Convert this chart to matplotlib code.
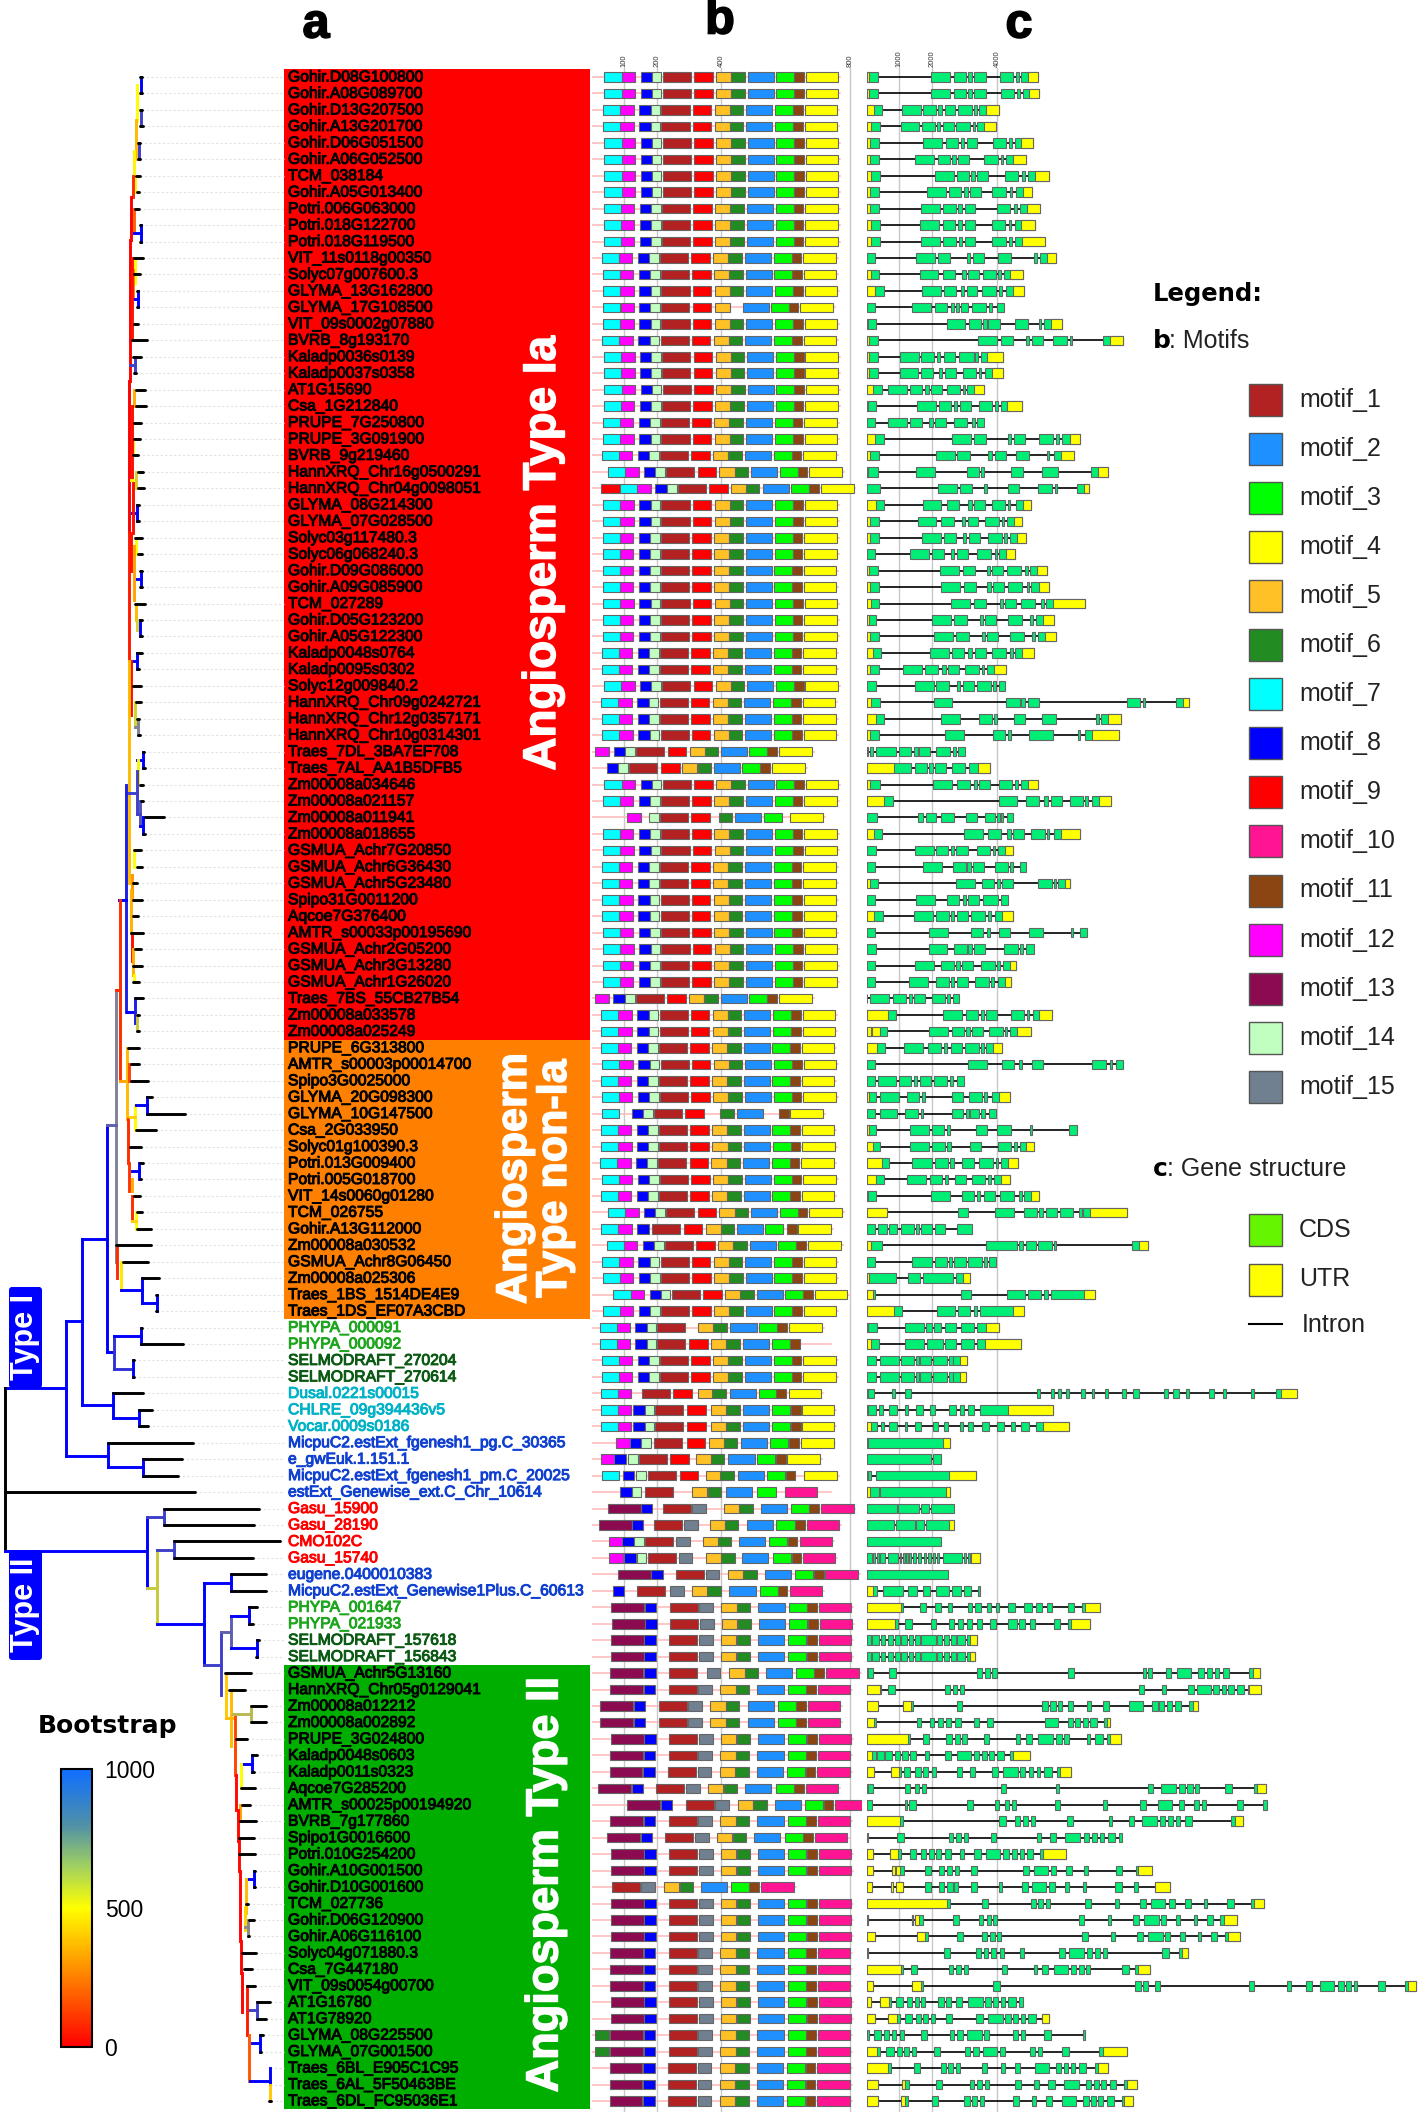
import matplotlib
matplotlib.use('Agg')
import matplotlib.pyplot as plt
import matplotlib.patheffects as pe
from matplotlib.cm import ScalarMappable
from matplotlib.colors import LinearSegmentedColormap, Normalize
from matplotlib.patches import FancyBboxPatch, Rectangle

plt.rcParams['font.family'] = ['Liberation Sans', 'DejaVu Sans']

W, H = 1418, 2112

genes = ['Gohir.D08G100800', 'Gohir.A08G089700', 'Gohir.D13G207500', 'Gohir.A13G201700', 'Gohir.D06G051500',
         'Gohir.A06G052500', 'TCM_038184', 'Gohir.A05G013400', 'Potri.006G063000', 'Potri.018G122700',
         'Potri.018G119500', 'VIT_11s0118g00350', 'Solyc07g007600.3', 'GLYMA_13G162800', 'GLYMA_17G108500',
         'VIT_09s0002g07880', 'BVRB_8g193170', 'Kaladp0036s0139', 'Kaladp0037s0358', 'AT1G15690',
         'Csa_1G212840', 'PRUPE_7G250800', 'PRUPE_3G091900', 'BVRB_9g219460', 'HannXRQ_Chr16g0500291',
         'HannXRQ_Chr04g0098051', 'GLYMA_08G214300', 'GLYMA_07G028500', 'Solyc03g117480.3', 'Solyc06g068240.3',
         'Gohir.D09G086000', 'Gohir.A09G085900', 'TCM_027289', 'Gohir.D05G123200', 'Gohir.A05G122300',
         'Kaladp0048s0764', 'Kaladp0095s0302', 'Solyc12g009840.2', 'HannXRQ_Chr09g0242721', 'HannXRQ_Chr12g0357171',
         'HannXRQ_Chr10g0314301', 'Traes_7DL_3BA7EF708', 'Traes_7AL_AA1B5DFB5', 'Zm00008a034646', 'Zm00008a021157',
         'Zm00008a011941', 'Zm00008a018655', 'GSMUA_Achr7G20850', 'GSMUA_Achr6G36430', 'GSMUA_Achr5G23480',
         'Spipo31G0011200', 'Aqcoe7G376400', 'AMTR_s00033p00195690', 'GSMUA_Achr2G05200', 'GSMUA_Achr3G13280',
         'GSMUA_Achr1G26020', 'Traes_7BS_55CB27B54', 'Zm00008a033578', 'Zm00008a025249', 'PRUPE_6G313800',
         'AMTR_s00003p00014700', 'Spipo3G0025000', 'GLYMA_20G098300', 'GLYMA_10G147500', 'Csa_2G033950',
         'Solyc01g100390.3', 'Potri.013G009400', 'Potri.005G018700', 'VIT_14s0060g01280', 'TCM_026755',
         'Gohir.A13G112000', 'Zm00008a030532', 'GSMUA_Achr8G06450', 'Zm00008a025306', 'Traes_1BS_1514DE4E9',
         'Traes_1DS_EF07A3CBD', 'PHYPA_000091', 'PHYPA_000092', 'SELMODRAFT_270204', 'SELMODRAFT_270614',
         'Dusal.0221s00015', 'CHLRE_09g394436v5', 'Vocar.0009s0186', 'MicpuC2.estExt_fgenesh1_pg.C_30365',
         'e_gwEuk.1.151.1', 'MicpuC2.estExt_fgenesh1_pm.C_20025', 'estExt_Genewise_ext.C_Chr_10614', 'Gasu_15900',
         'Gasu_28190', 'CMO102C', 'Gasu_15740', 'eugene.0400010383', 'MicpuC2.estExt_Genewise1Plus.C_60613',
         'PHYPA_001647', 'PHYPA_021933', 'SELMODRAFT_157618', 'SELMODRAFT_156843', 'GSMUA_Achr5G13160',
         'HannXRQ_Chr05g0129041', 'Zm00008a012212', 'Zm00008a002892', 'PRUPE_3G024800', 'Kaladp0048s0603',
         'Kaladp0011s0323', 'Aqcoe7G285200', 'AMTR_s00025p00194920', 'BVRB_7g177860', 'Spipo1G0016600',
         'Potri.010G254200', 'Gohir.A10G001500', 'Gohir.D10G001600', 'TCM_027736', 'Gohir.D06G120900',
         'Gohir.A06G116100', 'Solyc04g071880.3', 'Csa_7G447180', 'VIT_09s0054g00700', 'AT1G16780', 'AT1G78920',
         'GLYMA_08G225500', 'GLYMA_07G001500', 'Traes_6BL_E905C1C95', 'Traes_6AL_5F50463BE', 'Traes_6DL_FC95036E1']

# label colours for the rows outside the coloured blocks
label_colors = {'PHYPA': '#1ea51e', 'SELMO': '#0b5a14', 'Dusal': '#00b2c6', 'CHLRE': '#00b2c6', 'Vocar': '#00b2c6',
                'Micpu': '#1040d0', 'e_gwE': '#1040d0', 'estEx': '#1040d0', 'eugen': '#1040d0',
                'Gasu_': '#ff0000', 'CMO10': '#ff0000'}

# tree: black tip branches, one per row
tip_start = [139.5, 139.5, 139.5, 140, 137.5, 138, 135.5, 136.5, 135, 140, 139.5, 133.5, 133.5, 136.5, 136.5, 134,
             131.5, 133, 134, 135.5, 135.5, 134, 134, 132.5, 138, 138, 137, 137, 135, 138, 140, 140, 135, 140, 140,
             137, 137, 133, 136, 137, 138, 143, 143, 140, 141, 145, 143, 134, 136.7, 132.7, 132.7, 132.7, 130.7,
             134.7, 133, 133, 135, 137, 137, 128.3, 130.7, 130.7, 147.3, 147.3, 136, 130, 140, 139.5, 134, 137,
             136.7, 116, 122.7, 142.3, 156, 156, 141, 141, 133, 133, 112.7, 139.2, 139.2, 107.5, 143, 143, 4.7,
             164, 164, 174, 174, 231, 231, 249, 249, 257, 255.5, 224.6, 229.3, 251, 251, 236, 252, 252, 241, 242,
             239.6, 239, 239, 254, 254, 246, 248.5, 248.3, 242, 244, 247, 257, 257, 260, 260, 269.7, 269.7, 269]
tip_end = [142, 142, 141.5, 143, 140, 139.5, 140, 139, 139, 141, 141, 142.5, 140, 138, 138, 138, 146.5, 141, 136,
           144.5, 146, 141, 140, 138, 143, 144, 139, 139, 142, 142, 141.5, 141.5, 145, 142, 142, 141.7, 139, 141,
           141, 139, 139.5, 144, 145, 143, 143, 164, 145, 141, 142, 137, 141.7, 137.7, 143.3, 140.7, 142, 139, 143,
           139, 139, 139.3, 139.3, 148.3, 151.7, 185, 156, 141.3, 142.5, 141, 140.3, 141.5, 150.7, 151.3, 148, 159,
           157, 157, 142, 182.7, 134, 134, 143, 152, 148, 193, 182, 178, 194.5, 259, 253.5, 280, 253, 266, 266,
           257, 253, 259, 257, 251, 245, 266, 266, 247, 257, 254, 255, 250, 256, 254, 254.5, 255, 255, 248, 254,
           249, 256, 251.5, 255, 269.7, 265.7, 263, 261, 270.3, 270.3, 270.5]

# tree: internal branches as (x0, x1, row0, row1, bootstrap); None is a branch with no support value
branches = [(141, 141, 0, 1, 1000), (137, 137, .5, 2.7, 500), (141, 141, 2, 3, 900), (136, 136, 2.6, 5, 350),
            (139, 139, 4, 5, 900), (134, 134, 4.5, 6.1, 480), (135, 135, 6.1, 7, 520), (132.5, 132.5, 6, 7.3, 100),
            (131, 131, 7.3, 9.9, 0), (134, 134, 8, 9.5, 200), (134, 140.5, 9.5, 9.5, 1000), (140.5, 140.5, 9, 10, 1000),
            (129.5, 129.5, 9.9, 18.5, 0), (135, 135, 11, 12.5, 500), (133, 133, 11.7, 13.5, 250),
            (134, 137.5, 13.5, 13.5, 1000), (137.5, 137.5, 13, 14, 1000), (132, 132, 11, 16, 50),
            (130, 135, 17.5, 17.5, 900), (135, 135, 17, 18, 900), (134, 134, 19, 20, 320), (128.5, 128.5, 18.5, 27.7, 0),
            (133, 133, 22, 23, 480), (132, 132, 20, 24.5, 30), (131, 136, 24.5, 24.5, 500), (136.3, 136.3, 24, 25, 620),
            (132, 137, 26.5, 26.5, 1000), (137.3, 137.3, 26, 27, 1000), (132.7, 132.7, 24.7, 27.7, 30),
            (129, 129, 27.7, 35.4, 60), (136, 136, 28, 29, 500), (134, 134, 28.5, 31.8, 300),
            (137.3, 141, 30.5, 30.5, 1000), (141, 141, 30, 31, 1000), (131, 131, 27.7, 30, 40),
            (136, 136, 32, 33, 350), (136.7, 136.7, 33, 33.6, 620), (139.7, 139.7, 33, 34, 1000),
            (132, 137, 35.5, 35.5, 1000), (137, 137, 35, 36, 1000), (131, 131, 35.5, 38.8, 30),
            (128.7, 128.7, 35.5, 49, 350), (135, 135, 38, 39.5, 620), (137.7, 137.7, 39, 40, 800),
            (135, 137.7, 39.5, 39.5, 800), (143.3, 143.3, 41, 42, 1000), (136.7, 143.3, 41.5, 41.5, 1000),
            (138, 138, 41.5, 43, 520), (136.7, 136.7, 42.2, 44.8, 900), (126.7, 136.7, 43.5, 43.5, 900),
            (140, 140, 44, 45.5, 870), (136.7, 140, 44.8, 44.8, 900), (143.3, 143.3, 45, 46, 1000),
            (140, 143.3, 45.5, 45.5, 1000), (126, 126, 43, 56.8, 950), (126.7, 135, 56.8, 56.8, 1000),
            (135, 135, 56, 57.5, 950), (136.7, 136.7, 57, 58, 650), (134, 134, 47, 48, 500), (132, 132, 48.5, 50, 280),
            (130.7, 130.7, 49.4, 52, 330), (131.7, 131.7, 52, 53.7, 30), (132.7, 132.7, 53, 54.6, 320),
            (134, 134, 54.6, 55, 500), (119, 126, 50, 50, 1000), (120.3, 120.3, 50, 61, 100),
            (115.7, 115.7, 55.5, 72, 800), (115.7, 120.3, 55.5, 55.5, 100), (120.3, 128.3, 61, 61, 300),
            (126.7, 126.7, 59, 63.3, 350), (129.3, 129.3, 60, 61, 150), (128, 128, 63.3, 66, 100),
            (134.7, 134.7, 62.5, 64, 500), (130, 134.7, 63.2, 63.2, 400), (136, 146.7, 62.5, 62.5, 1000),
            (146.7, 146.7, 62, 63, 1000), (129.3, 129.3, 66, 67.7, 120), (132, 132, 67, 67.7, 320),
            (131.7, 139.3, 66.5, 66.5, 1000), (139.3, 139.3, 66, 67, 1000), (132.3, 132.3, 68, 69.5, 100),
            (136, 136, 69, 70, 500), (132.3, 136, 69.5, 69.5, 400), (117, 117, 71, 73, 100), (121.3, 121.3, 72, 73.7, 450),
            (121.3, 141.7, 73.7, 73.7, 1000), (141.7, 141.7, 73, 74.5, 1000), (141.7, 156.7, 74.5, 74.5, 1000),
            (156.7, 156.7, 74, 75, 1000), (107.3, 107.3, 63.7, 77.5, 1000), (107.3, 115.7, 63.7, 63.7, 850),
            (81.7, 107.3, 70.6, 70.6, 1000), (82.2, 82.2, 70.6, 80.7, 1000), (82.2, 112.7, 80.7, 80.7, 1000),
            (107.3, 114, 77.5, 77.5, 1000), (114, 114, 76.5, 78.5, 920), (114, 141, 76.5, 76.5, 1000),
            (141, 141, 76, 77, 1000), (114, 133, 78.5, 78.5, 920), (133, 133, 78, 79, 1000),
            (112.7, 112.7, 80, 81.5, 1000), (112.7, 139.2, 81.5, 81.5, 1000), (139.2, 139.2, 81, 82, 1000),
            (66.4, 66.4, 75.6, 83.8, 1000), (66.4, 82.2, 75.6, 75.6, 1000), (66.4, 107.5, 83.8, 83.8, 1000),
            (107.5, 107.5, 83, 84.5, 1000), (107.5, 143, 84.5, 84.5, 1000), (143, 143, 84, 85, 1000),
            (4.7, 66.4, 79.7, 79.7, 1000), (4.7, 4.7, 79.7, 89.6, None), (4.7, 146, 89.6, 89.6, 1000),
            (147, 147, 87.5, 91.8, 1000), (147, 164, 87.5, 87.5, 900), (164, 164, 87, 88, 900),
            (156.6, 156.6, 89.5, 94, 650), (147, 156.6, 91.8, 91.8, 650), (156.6, 174, 89.5, 89.5, 900),
            (174, 174, 89, 90, 900), (156.6, 203.6, 94, 94, 1000), (203.6, 203.6, 91.5, 96.5, 1000),
            (203.6, 231.3, 91.5, 91.5, 1000), (231.3, 231.3, 91, 92, 1000), (203.6, 221.4, 96.5, 96.5, 900),
            (221.4, 221.4, 94.5, 98.3, 900), (221.4, 231.3, 94.5, 94.5, 850), (231.3, 231.3, 93.5, 95.5, 850),
            (231.3, 249, 93.5, 93.5, 1000), (249, 249, 93, 94, 1000), (231.3, 257, 95.5, 95.5, 1000),
            (257, 257, 95, 96, 1000), (225.8, 225.8, 97, 99.7, 380), (225.8, 233.3, 99.7, 99.7, 350),
            (230.5, 230.5, 98, 101.4, 350), (234.5, 234.5, 99.6, 103.2, 150), (233.3, 251, 99.5, 99.5, 680),
            (251, 251, 99, 100, 680), (241, 252, 102.5, 102.5, 1000), (252, 252, 102, 103, 1000),
            (241, 241, 102.5, 104, 500), (236, 236, 103.2, 105.3, 20), (240.4, 240.4, 105, 106, 300),
            (237.7, 237.7, 105.3, 107.2, 20), (239, 239, 107, 109, 20), (248, 254, 109.5, 109.5, 1000),
            (254, 254, 109, 110, 1000), (246.3, 246.3, 109.5, 111.6, 350), (245, 245, 111.2, 112.6, 400),
            (248.3, 248.3, 112, 113, 780), (245, 248.3, 112.4, 112.4, 780), (239.6, 239.6, 109, 113.3, 10),
            (240.8, 240.8, 113.3, 115.2, 10), (242.4, 242.4, 115.2, 117.6, 10), (248, 257, 117.5, 117.5, 900),
            (257, 257, 117, 118, 900), (247, 247, 116, 119, 60), (249, 249, 119, 121.8, 180),
            (252, 260, 119.5, 119.5, 1000), (260, 260, 119, 120, 1000), (250.3, 269.7, 121.8, 121.8, 1000),
            (269.7, 269.7, 121, 122, 1000), (269.7, 269.7, 122, 123, 380)]

# motifs: width in aa, and the usual order along the protein
motif_len = {1: 87, 2: 81, 3: 56, 4: 101, 5: 47, 6: 42, 7: 53, 8: 36, 9: 58, 10: 100, 11: 30, 12: 42, 13: 102, 14: 30, 15: 43}
motif_colors = {1: '#b22222', 2: '#1e90ff', 3: '#00ff00', 4: '#ffff00', 5: '#ffc125', 6: '#228b22', 7: '#00ffff', 8: '#0000ff',
                9: '#ff0000', 10: '#ff1493', 11: '#8b4513', 12: '#ff00ff', 13: '#8b0a50', 14: '#c1ffc1', 15: '#708090'}
type1_order = [7, 12, 8, 14, 1, 9, 5, 6, 2, 3, 11, 4]
type1_offset = [0, 53, 112, 147, 181, 278, 346, 393, 444, 533, 589, 625]
type2_order = [13, 8, 1, 15, 5, 6, 2, 3, 11, 10]
type2_offset = [0, 104, 181, 273, 342, 390, 457, 551, 609, 645]

# aa position of the first motif in each row; None means the row is listed in motif_special
motif_first = [38, 38, 34, 34, 38, 38, 38, 38, 36, 36, 36, 30, 32, 34, None, 34, 31, 37, 37, 38, 36, 33, 34, 30, 49, None,
               34, 34, 33, 33, 32, 32, 34, 33, 33, 30, 30, 37, 28, 30, 31, None, None, 38, 33, None, 33, 34, 30, 30, 31, 31,
               32, 34, 33, 33, None, 28, 28, 26, 31, 26, 30, None, 26, 27, 24, 30, 26, 49, None, 45, 31, 32, 66, 32,
               None, None, 30, 30, None, None, None, None, None, None, None, None, None, None, None, 79, None,
               59, 61, 58, 58, None, 56, 25, 25, 58, 56, 54, 18, 109, 56, 46, 58, 58, None, 58, 58, 58, 56, 56, 56, 58, 58, 56, 56, 54, 54, 54]

# rows that do not follow the usual order: row number -> (motif, start aa)
motif_special = {
    15: [(7, 34), (12, 88), (8, 145), (14, 180), (1, 214), (9, 312), (5, 380), (2, 467), (3, 555), (11, 610), (4, 646)],
    26: [(9, 28), (7, 85), (12, 139), (8, 196), (14, 232), (1, 266), (9, 362), (5, 430), (6, 477), (2, 530), (3, 618), (11, 673), (4, 710)],
    42: [(12, 10), (8, 68), (14, 103), (1, 137), (9, 234), (5, 302), (6, 349), (2, 400), (3, 488), (11, 544), (4, 581)],
    43: [(8, 45), (14, 81), (1, 114), (9, 213), (5, 279), (6, 327), (2, 379), (3, 466), (11, 521), (4, 559)],
    46: [(12, 108), (14, 177), (1, 210), (9, 308), (6, 393), (2, 444), (3, 532), (4, 615)],
    57: [(12, 10), (8, 66), (14, 102), (1, 135), (9, 233), (5, 300), (6, 348), (2, 399), (3, 487), (11, 543), (4, 581)],
    64: [(7, 30), (8, 122), (14, 159), (1, 192), (9, 289), (6, 397), (2, 448), (11, 580), (4, 615)],
    71: [(7, 27), (12, 81), (8, 139), (1, 186), (9, 284), (5, 352), (6, 399), (2, 450), (3, 537), (11, 606), (4, 640)],
    77: [(7, 23), (12, 76), (8, 133), (14, 169), (1, 202), (5, 329), (6, 375), (2, 429), (3, 518), (11, 574), (4, 612)],
    78: [(7, 23), (12, 76), (8, 133), (14, 169), (1, 202), (9, 301), (5, 368), (6, 416), (2, 469), (3, 558), (11, 614)],
    81: [(7, 26), (12, 79), (1, 155), (9, 252), (5, 327), (6, 373), (2, 428), (3, 517), (11, 572), (4, 610)],
    82: [(7, 26), (12, 79), (8, 127), (14, 163), (1, 196), (9, 294), (5, 368), (6, 416), (2, 469), (3, 559), (11, 617), (4, 651)],
    83: [(7, 26), (12, 79), (8, 127), (14, 163), (1, 196), (9, 294), (5, 368), (6, 416), (2, 469), (3, 559), (11, 617), (4, 651)],
    84: [(12, 74), (8, 117), (14, 153), (1, 192), (9, 293), (5, 362), (6, 408), (2, 461), (3, 551), (11, 612), (4, 648)],
    85: [(12, 28), (8, 69), (14, 112), (1, 146), (9, 243), (5, 322), (6, 368), (2, 423), (3, 512), (11, 572), (4, 605)],
    86: [(7, 30), (8, 95), (14, 137), (1, 173), (9, 271), (5, 352), (6, 398), (2, 451), (3, 541), (11, 600), (4, 658)],
    87: [(8, 87), (14, 123), (1, 165), (5, 309), (6, 359), (2, 416), (3, 513), (10, 597)],
    88: [(13, 48), (8, 151), (1, 219), (15, 309), (5, 410), (6, 457), (2, 525), (3, 617), (11, 674), (10, 711)],
    89: [(13, 21), (8, 123), (1, 192), (15, 285), (5, 365), (6, 411), (2, 480), (3, 572), (11, 630), (10, 666)],
    90: [(12, 53), (8, 94), (14, 130), (1, 165), (15, 260), (5, 344), (6, 390), (2, 456), (3, 549), (11, 607), (10, 645)],
    91: [(12, 53), (8, 99), (14, 138), (1, 173), (15, 268), (5, 354), (6, 401), (2, 466), (3, 561), (11, 619), (10, 655)],
    93: [(8, 64), (1, 140), (15, 242), (5, 311), (6, 357), (2, 426), (3, 520), (11, 576), (10, 614)],
    98: [(13, 56), (8, 161), (1, 237), (15, 355), (5, 426), (6, 474), (2, 540), (3, 632), (11, 689), (10, 727)],
    111: [(1, 61), (15, 153), (5, 223), (6, 271), (2, 338), (3, 431), (11, 488), (10, 525)],
}
motif_extra = {120: [(6, 10)], 121: [(6, 10)]}
protein_end = {78: 742, 87: 742}

# gene structure in bp: flat start,end pairs of the exons of each row
gene_exons = [
    [0, 360, 1980, 2560, 2670, 3040, 3110, 3220, 3300, 3640, 4070, 4490, 4570, 4660, 4740, 5250],
    [0, 360, 1980, 2560, 2670, 3040, 3110, 3220, 3300, 3640, 4110, 4520, 4600, 4680, 4790, 5270],
    [0, 480, 1090, 1660, 1740, 2130, 2200, 2300, 2390, 2710, 2810, 3220, 3300, 3380, 3450, 4050],
    [0, 410, 1040, 1610, 1710, 2080, 2150, 2260, 2340, 2670, 2750, 3170, 3250, 3320, 3390, 3970],
    [0, 370, 1740, 2320, 2420, 2810, 2880, 2980, 3070, 3390, 3860, 4280, 4360, 4450, 4530, 5080],
    [0, 370, 1490, 2060, 2180, 2550, 2620, 2730, 2810, 3120, 3600, 4010, 4100, 4180, 4260, 4890],
    [0, 410, 2080, 2670, 2760, 3140, 3210, 3310, 3390, 3720, 4240, 4640, 4770, 4860, 4950, 5590],
    [0, 390, 1840, 2420, 2530, 2900, 2980, 3090, 3170, 3500, 3850, 4260, 4380, 4460, 4560, 5050],
    [0, 390, 1670, 2250, 2350, 2730, 2810, 2910, 3000, 3320, 3980, 4400, 4500, 4590, 4690, 5320],
    [0, 400, 1650, 2230, 2330, 2700, 2810, 2910, 3000, 3320, 3840, 4250, 4350, 4430, 4530, 5140],
    [0, 410, 1670, 2250, 2340, 2730, 2820, 2930, 3010, 3330, 3850, 4260, 4360, 4450, 4550, 5460],
    [0, 260, 1510, 2090, 2180, 2550, 3080, 3180, 3250, 3580, 4020, 4430, 5120, 5210, 5310, 5780],
    [0, 370, 1630, 2200, 2330, 2700, 2930, 3030, 3110, 3440, 3550, 3950, 4020, 4110, 4190, 4800],
    [0, 530, 1700, 2280, 2380, 2750, 2880, 2980, 3070, 3390, 3530, 3950, 4060, 4140, 4280, 4830],
    [0, 270, 1390, 1980, 2080, 2460, 2570, 2680, 2750, 2840, 2880, 3100, 3230, 3650, 3760, 3840, 3980, 4190],
    [0, 290, 2450, 3020, 3120, 3500, 3570, 3670, 3730, 4070, 4530, 4950, 5280, 5340, 5430, 5990],
    [0, 350, 3420, 4000, 4100, 4480, 4890, 4980, 5050, 5390, 5690, 6120, 6220, 6290, 7230, 7830],
    [0, 340, 1020, 1600, 1680, 2060, 2150, 2260, 2360, 2700, 2840, 3280, 3330, 3420, 3490, 4170],
    [0, 350, 1010, 1590, 1660, 2040, 2210, 2320, 2410, 2740, 2940, 3360, 3430, 3510, 3620, 4170],
    [0, 460, 670, 1240, 1320, 1710, 1800, 1900, 1980, 2300, 2450, 2850, 2950, 3020, 3070, 3600],
    [0, 290, 1530, 2120, 2210, 2590, 2670, 2770, 2850, 3190, 3430, 3850, 3930, 4010, 4100, 4760],
    [0, 270, 670, 1240, 1320, 1710, 1920, 2020, 2110, 2430, 2670, 3080, 3230, 3310, 3380, 3600],
    [0, 530, 2620, 3210, 3280, 3660, 4330, 4430, 4500, 4840, 5270, 5690, 5810, 5900, 5990, 6530],
    [0, 370, 2120, 2700, 2780, 3160, 3720, 3840, 3920, 4260, 4560, 4980, 5510, 5580, 5730, 6340],
    [0, 350, 1500, 2080, 3070, 3440, 3510, 3600, 4430, 4790, 5380, 5870, 6860, 7380],
    [0, 420, 2200, 2780, 2850, 3230, 3590, 3670, 4320, 4660, 5240, 5660, 5760, 5830, 6440, 6810],
    [0, 550, 1720, 2290, 2460, 2840, 3110, 3220, 3290, 3630, 3830, 4240, 4320, 4400, 4560, 5020],
    [0, 370, 1560, 2130, 2290, 2670, 2910, 3020, 3090, 3420, 3630, 4040, 4130, 4210, 4290, 4770],
    [0, 370, 1700, 2270, 2360, 2730, 2950, 3050, 3140, 3470, 3720, 4140, 4220, 4310, 4390, 4870],
    [0, 270, 1320, 1910, 1990, 2360, 2590, 2680, 2770, 3100, 3390, 3800, 3920, 4000, 4060, 4550],
    [0, 340, 2260, 2830, 2940, 3310, 3670, 3770, 3850, 4180, 4310, 4720, 4840, 4930, 5000, 5530],
    [0, 370, 2280, 2870, 2970, 3350, 3700, 3800, 3860, 4200, 4330, 4750, 4900, 4980, 5040, 5580],
    [0, 390, 2570, 3160, 3280, 3660, 4070, 4180, 4250, 4570, 4730, 5150, 5340, 5420, 5500, 6690],
    [0, 300, 2000, 2570, 2690, 3080, 3460, 3560, 3630, 3970, 4330, 4750, 5000, 5080, 5190, 5730],
    [0, 370, 2060, 2640, 2750, 3140, 3520, 3620, 3690, 4020, 4400, 4810, 5050, 5140, 5250, 5800],
    [0, 430, 1930, 2520, 2600, 2980, 3110, 3220, 3310, 3650, 3850, 4260, 4390, 4470, 4550, 5110],
    [0, 370, 1120, 1710, 1790, 2180, 2320, 2420, 2500, 2830, 3020, 3440, 3520, 3600, 3690, 4280],
    [0, 280, 1490, 2070, 2140, 2530, 2760, 2850, 2950, 3280, 3380, 3800, 3870, 3950, 4040, 4250],
    [0, 400, 2050, 2620, 4280, 4680, 4740, 4840, 4930, 5270, 7960, 8370, 8460, 8520, 9470, 9860],
    [0, 530, 2270, 2850, 3440, 3830, 3910, 4000, 4500, 4840, 5370, 5790, 7020, 7100, 7160, 7770],
    [0, 370, 2390, 2970, 3860, 4240, 4320, 4410, 4960, 5700, 6460, 6520, 6680, 7720],
    [0, 40, 120, 200, 300, 890, 980, 1360, 1440, 1560, 1610, 1950, 2140, 2550, 2640, 2730, 2810, 3010],
    [0, 1370, 1470, 1850, 1920, 2020, 2110, 2430, 2600, 3020, 3120, 3790],
    [0, 400, 2020, 2600, 2770, 3150, 3280, 3380, 3450, 3780, 4040, 4460, 4540, 4620, 4720, 5240],
    [0, 810, 4040, 4610, 4890, 5270, 5440, 5550, 5640, 5970, 6210, 6620, 6690, 6770, 6890, 7490],
    [0, 330, 1560, 1740, 1830, 2120, 2290, 2680, 3050, 3380, 3620, 3940, 4000, 4070, 4100, 4170, 4290, 4490],
    [0, 480, 2980, 3560, 3730, 4120, 4310, 4410, 4480, 4820, 5030, 5450, 5510, 5590, 5730, 6520],
    [0, 280, 1470, 2050, 2120, 2500, 2570, 2680, 2750, 3090, 3380, 3790, 3860, 3940, 4020, 4490],
    [0, 270, 1730, 2300, 2640, 3030, 3080, 3190, 3260, 3600, 3920, 4330, 4400, 4470, 4680, 4890],
    [0, 350, 2730, 3310, 3520, 3900, 3980, 4080, 4150, 4480, 5240, 5660, 5720, 5800, 5850, 6210],
    [0, 270, 1510, 2080, 2460, 2840, 2940, 3040, 3110, 3450, 3570, 4020, 4120, 4320],
    [0, 490, 1450, 2020, 2130, 2520, 2590, 2690, 2760, 3100, 3190, 3620, 3720, 3800, 3930, 4490],
    [0, 270, 1910, 2490, 3190, 3560, 3700, 3790, 4050, 4390, 4980, 5390, 6250, 6310, 6530, 6740],
    [0, 280, 1900, 2470, 2680, 3070, 3110, 3220, 3300, 3630, 4220, 4630, 4700, 4790, 4880, 5110],
    [0, 270, 1470, 2050, 2280, 2670, 2750, 2850, 2930, 3260, 3510, 3920, 4000, 4080, 4170, 4570],
    [0, 270, 1310, 1880, 2120, 2520, 2590, 2690, 2760, 3100, 3330, 3740, 3810, 3900, 4010, 4410],
    [0, 30, 120, 700, 820, 1210, 1290, 1380, 1450, 1790, 1990, 2400, 2470, 2550, 2630, 2830],
    [0, 900, 2350, 2930, 3040, 3400, 3490, 3580, 3660, 3990, 4410, 4830, 4900, 4980, 5080, 5670],
    [0, 140, 180, 640, 1920, 2490, 2600, 2970, 3050, 3150, 3230, 3560, 3740, 4170, 4240, 4310, 4390, 5030],
    [0, 560, 1150, 1730, 1880, 2270, 2380, 2470, 2590, 2910, 3020, 3440, 3500, 3580, 3660, 4130],
    [0, 270, 3110, 3700, 4130, 4520, 4670, 4760, 5070, 5410, 6910, 7320, 7440, 7510, 7630, 7840],
    [0, 250, 340, 910, 980, 1370, 1440, 1540, 1630, 1970, 2050, 2460, 2560, 2640, 2760, 2970],
    [0, 300, 410, 990, 1230, 1600, 1710, 1800, 2610, 2950, 3120, 3530, 3600, 3690, 3850, 4400],
    [0, 260, 410, 920, 1190, 1570, 1670, 1740, 2620, 2960, 3040, 3140, 3180, 3430, 3510, 3630, 3740, 3950],
    [0, 300, 1320, 1910, 1990, 2380, 2450, 2550, 3360, 3690, 4000, 4410, 5000, 5070, 6190, 6450],
    [0, 420, 1320, 1910, 2010, 2400, 2470, 2570, 3170, 3500, 4010, 4420, 4500, 4590, 4680, 5110],
    [0, 690, 1400, 1990, 2110, 2490, 2560, 2670, 2930, 3280, 3440, 3860, 3950, 4020, 4110, 4630],
    [0, 530, 1240, 1830, 1940, 2320, 2400, 2500, 2700, 3040, 3220, 3630, 3720, 3800, 3900, 4390],
    [0, 280, 1980, 2550, 2910, 3300, 3380, 3470, 3600, 3930, 4080, 4500, 4670, 4750, 4820, 5290],
    [0, 620, 2800, 3090, 3920, 4500, 4830, 5220, 5290, 5390, 5500, 5830, 5910, 6330, 6490, 6580, 6630, 7970],
    [0, 250, 350, 630, 700, 940, 1050, 1440, 1510, 1610, 1680, 2010, 2080, 2400, 2780, 3220],
    [0, 460, 3640, 4600, 4660, 4790, 4870, 5180, 5250, 5670, 5720, 5800, 8130, 8600],
    [0, 270, 1400, 1990, 2080, 2450, 2520, 2620, 2690, 3030, 3100, 3530, 3600, 3690, 3740, 3950],
    [0, 890, 1260, 1650, 1730, 2630, 2730, 3170],
    [0, 270, 2880, 3210, 4310, 4860, 4940, 5340, 5440, 5550, 5640, 7000],
    [0, 1100, 2150, 2700, 2800, 3170, 3280, 3370, 3470, 4810],
    [0, 310, 1170, 1750, 1830, 1990, 2070, 2270, 2410, 2750, 2880, 3280, 3380, 4060],
    [0, 370, 1170, 1760, 1840, 2330, 2410, 2750, 2880, 3280, 3380, 4740],
    [0, 280, 420, 1000, 1070, 1460, 1520, 1620, 1650, 1970, 2040, 2460, 2520, 2640, 2650, 3060],
    [0, 280, 420, 1000, 1070, 1460, 1520, 1620, 1650, 1970, 2040, 2460, 2520, 2640, 2650, 3040],
    [0, 230, 780, 870, 1170, 1360, 5210, 5320, 5630, 5730, 5860, 5950, 6100, 6180, 6570, 6680, 6910, 6970, 7280, 7390, 7810, 7930,
     8140, 8330, 9110, 9210, 9380, 9550, 9760, 9870, 10480, 10630, 10890, 11000, 11750, 11840, 12520, 13170],
    [0, 280, 390, 500, 700, 920, 1180, 1280, 1520, 1730, 1940, 2100, 2510, 2730, 2860, 2980, 3110, 3280, 3460, 5710],
    [0, 320, 440, 530, 700, 940, 1170, 1250, 1490, 1680, 2020, 2180, 2380, 2490, 2850, 2940, 3110, 3270, 3530, 3740, 3980, 4210,
     4420, 4550, 4710, 4970, 5180, 6180],
    [0, 2560],
    [0, 1960, 2040, 2270],
    [0, 150, 290, 3350],
    [0, 370, 420, 2560],
    [0, 920, 970, 1600, 1670, 1910, 1960, 2670],
    [0, 840, 890, 1490, 1520, 1760, 1810, 2670],
    [0, 2270],
    [0, 160, 210, 260, 320, 370, 420, 580, 650, 970, 1020, 1070, 1120, 1170, 1210, 1260, 1310, 1360, 1420, 1500, 1570, 1680, 1750, 1810,
     1880, 1960, 2020, 2090, 2150, 2230, 2350, 2910, 2980, 3040, 3090, 3160, 3200, 3460],
    [0, 2480],
    [0, 310, 490, 1130, 1280, 1550, 1730, 1940, 2140, 2520, 2620, 2900, 2980, 3200, 3400, 3460],
    [0, 1130, 1630, 1810, 2100, 2270, 2490, 2620, 3110, 3220, 3330, 3510, 3670, 3820, 3950, 4060, 4340, 4530, 4820, 5060, 5190, 5360,
     5520, 5680, 6150, 6360, 6600, 7150],
    [0, 970, 1180, 1380, 1960, 2140, 2520, 2690, 2800, 2960, 3060, 3240, 3370, 3540, 3770, 3960, 4340, 4600, 4660, 4840, 5000, 5160,
     5730, 5920, 6160, 6830],
    [0, 130, 160, 370, 440, 580, 650, 810, 870, 1020, 1070, 1230, 1290, 1420, 1470, 1630, 1680, 2120, 2170, 2310, 2380, 2520, 2590, 2730,
     2780, 3010, 3060, 3370],
    [0, 130, 160, 370, 440, 580, 650, 810, 870, 1020, 1070, 1230, 1290, 1420, 1470, 1630, 1680, 2120, 2170, 2310, 2380, 2520, 2590, 2730,
     2780, 3010, 3060, 3320],
    [0, 190, 680, 910, 3370, 3530, 3620, 3770, 3830, 3980, 6160, 6340, 8460, 8540, 8610, 8740, 9160, 9320, 9510, 9930, 10140, 10320,
     10420, 10570, 10660, 10780, 10910, 11100, 11710, 12040],
    [0, 450, 650, 870, 2390, 2540, 2640, 2770, 2850, 2980, 8330, 8480, 9040, 9160, 9820, 10000, 10100, 10530, 10610, 10780, 10860, 10990,
     11070, 11230, 11330, 11550, 11670, 12070],
    [0, 360, 1130, 1420, 2780, 2910, 5370, 5550, 5610, 5780, 5860, 5990, 6150, 6330, 6730, 6860, 7230, 7410, 8030, 8460, 8720, 8920,
     8960, 9110, 9190, 9350, 9420, 9610, 9850, 10130],
    [0, 290, 1540, 1680, 1930, 2070, 2180, 2330, 2440, 2570, 2720, 2880, 3280, 3430, 3690, 3880, 5450, 5870, 6160, 6330, 6390, 6540,
     6620, 6760, 6830, 7050, 7250, 7460],
    [0, 1340, 1720, 1910, 2440, 2620, 2720, 2850, 2930, 3070, 3580, 3740, 4580, 4680, 4870, 5050, 5240, 5700, 5790, 5970, 6040, 6200,
     6730, 6840, 6990, 7220, 7350, 7770],
    [0, 280, 320, 520, 580, 790, 870, 1030, 1100, 1260, 1320, 1500, 1780, 1910, 2390, 2580, 2780, 3190, 3290, 3450, 3520, 3680, 3760, 3890,
     4000, 4210, 4390, 5000],
    [0, 240, 740, 1070, 1150, 1340, 1490, 1660, 1730, 1870, 1990, 2120, 2760, 2920, 3180, 3310, 3830, 4020, 4180, 4630, 4700, 4860,
     4960, 5100, 5200, 5310, 5440, 5670, 5830, 6260],
    [0, 190, 1190, 1340, 1470, 1610, 1690, 1820, 4100, 4280, 5790, 5900, 8600, 8770, 9000, 9450, 9560, 9730, 9810, 9970, 10060, 10160,
     10950, 11180, 11840, 12210],
    [0, 160, 1190, 1240, 1310, 1520, 3060, 3260, 3920, 4060, 4230, 4370, 4450, 4580, 5760, 5920, 7240, 7370, 8370, 8560, 8920, 9340,
     9550, 9710, 10010, 10160, 10260, 10370, 11320, 11510, 12140, 12240],
    [0, 1110, 4050, 4260, 4530, 4690, 4790, 4930, 5020, 5150, 6130, 6310, 7420, 7520, 8020, 8180, 8440, 8890, 8970, 9130, 9210, 9370,
     9450, 9580, 9730, 9940, 11160, 11520],
    [0, 60, 920, 1150, 2520, 2660, 2740, 2890, 2970, 3100, 3810, 3970, 5210, 5340, 5620, 5790, 6080, 6520, 6650, 6810, 6910, 7050,
     7130, 7260, 7390, 7600, 7730, 7810],
    [0, 210, 710, 1070, 1340, 1520, 1660, 1820, 1900, 2070, 2130, 2280, 2410, 2580, 2860, 2970, 3290, 3490, 3650, 4090, 4180, 4360,
     4440, 4590, 4680, 4810, 4910, 5100, 5310, 6090],
    [0, 210, 780, 860, 900, 1150, 1780, 1970, 2230, 2370, 2460, 2620, 2700, 2830, 3210, 3390, 4800, 4970, 5120, 5540, 5640, 5800,
     6100, 6270, 6650, 6770, 7620, 7820, 8240, 8720],
    [0, 180, 760, 820, 890, 1130, 1780, 1970, 2230, 2370, 2470, 2630, 2680, 2810, 3210, 3390, 4050, 4150, 4750, 4930, 5060, 5490,
     5590, 5770, 6060, 6200, 6610, 6720, 7610, 7820, 8190, 8290, 8820, 9270],
    [0, 2550, 3520, 3710, 5020, 5170, 5250, 5390, 5480, 5600, 6690, 6880, 7610, 7720, 8370, 8540, 8690, 9140, 9240, 9420, 9740, 9920,
     10320, 10420, 11030, 11240, 11760, 12160],
    [0, 60, 1390, 1420, 1490, 1730, 2650, 2840, 3440, 3570, 3670, 3810, 3880, 4000, 6490, 6640, 7380, 7480, 8160, 8330, 8500, 8930,
     9010, 9170, 9460, 9590, 10000, 10110, 10400, 10590, 10820, 11320],
    [0, 270, 1550, 1870, 2760, 2940, 3540, 3680, 3780, 3920, 3990, 4120, 6600, 6770, 7490, 7590, 8280, 8450, 8620, 9060, 9140, 9290,
     9590, 9750, 10130, 10240, 10530, 10720, 10970, 11430],
    [0, 60, 2360, 2550, 3340, 3500, 3580, 3730, 3810, 3960, 4070, 4210, 4700, 4830, 5900, 6070, 6200, 6640, 6730, 6900, 6990, 7150,
     7240, 7350, 9050, 9240, 9560, 9840],
    [0, 1130, 1360, 1550, 2520, 2660, 2740, 2890, 2970, 3100, 4130, 4300, 5120, 5220, 5380, 5540, 5730, 6150, 6250, 6410, 6490, 6640,
     6720, 6850, 7800, 8030, 8200, 8660],
    [0, 190, 1400, 1740, 3880, 4070, 8220, 8380, 8460, 8620, 8830, 8980, 11710, 11850, 12860, 12970, 13450, 13630, 13870, 14310,
     14420, 14590, 14660, 14810, 14900, 15000, 15630, 15860, 16460, 16800],
    [0, 130, 400, 760, 900, 1130, 1230, 1390, 1470, 1610, 1680, 1790, 2200, 2360, 2440, 2580, 2730, 2920, 3100, 3550, 3630, 3800,
     3880, 4020, 4100, 4230, 4330, 4570, 4670, 4780],
    [0, 270, 660, 1030, 1180, 1400, 1500, 1660, 1740, 1890, 1970, 2110, 2420, 2620, 3360, 3550, 3730, 4160, 4250, 4410, 4490, 4630,
     4720, 4860, 4940, 5180, 5360, 5590],
    [0, 80, 230, 450, 520, 680, 780, 900, 1020, 1160, 1680, 1860, 2550, 2680, 2760, 2960, 3070, 3520, 3590, 3750, 4490, 4630,
     4720, 4850, 5430, 5640, 6610, 6690],
    [0, 420, 610, 840, 920, 1080, 1160, 1310, 1390, 1520, 2070, 2260, 3020, 3150, 3250, 3440, 3550, 4000, 4070, 4230, 5010, 5150,
     5230, 5360, 5980, 6190, 7120, 7960],
    [0, 740, 1450, 1650, 2280, 2420, 2500, 2650, 2730, 2870, 3540, 3700, 4100, 4250, 4540, 4700, 5140, 5570, 5780, 5960, 6030, 6170,
     6250, 6380, 6490, 6720, 6990, 7400],
    [0, 340, 1100, 1290, 2130, 2320, 3150, 3290, 3370, 3520, 3620, 3750, 4550, 4710, 5130, 5260, 5550, 5750, 6050, 6490, 6710, 6870,
     6960, 7100, 7180, 7310, 7440, 7630, 7860, 8280],
    [0, 340, 1070, 1280, 1990, 2180, 2990, 3150, 3230, 3370, 3470, 3600, 4490, 4650, 5060, 5180, 5480, 5670, 5980, 6410, 6620, 6800,
     6860, 7010, 7090, 7240, 7350, 7560, 7820, 8160],
]
# end of the 5' UTR and start of the 3' UTR of each row in bp, 0 where the row has none
gene_utr5 = [90, 90, 220, 150, 110, 110, 130, 120, 120, 130, 140, 0, 130, 260, 0, 60, 90, 80, 90, 190, 50, 0, 260, 110, 60, 0,
             290, 120, 120, 0, 90, 120, 130, 70, 120, 190, 120, 0, 150, 290, 110, 0, 840, 120, 540, 0, 220, 0, 0, 120, 0, 230,
             0, 0, 0, 0, 0, 670, 400, 320, 0, 0, 70, 0, 70, 190, 470, 280, 50, 620, 0, 150, 0, 70, 190, 830,
             60, 150, 0, 0, 50, 60, 150, 40, 0, 50, 110, 0, 0, 0, 0, 0, 190, 1040, 870, 0, 0, 60, 400, 1360, 230, 1260,
             160, 1000, 50, 0, 1020, 0, 970, 1020, 1130, 2450, 1620, 1790, 30, 1050, 1680, 690, 920, 0, 310, 650, 1190, 1190]
gene_utr3 = [4950, 4980, 3650, 3600, 4730, 4470, 5160, 4790, 4900, 4740, 4750, 5510, 4400, 4490, 0, 5640, 7440, 3700, 3830, 3290,
             4310, 0, 6210, 5940, 7070, 6650, 4790, 4520, 4600, 4280, 5210, 5270, 5700, 5410, 5460, 4760, 3910, 0, 9680, 7380,
             6890, 0, 3400, 4930, 7100, 0, 5940, 4250, 0, 6060, 0, 4150, 0, 0, 4380, 4240, 0, 5290, 4600, 3860, 0, 0, 4050, 0,
             0, 4890, 4320, 4110, 5020, 6840, 0, 8330, 0, 2950, 6650, 4490, 3660, 3610, 2850, 2850, 12690, 4320, 5390, 2330, 0,
             2520, 2430, 0, 2510, 0, 3200, 0, 0, 6680, 6260, 3170, 3170, 11830, 11700, 9970, 7350, 7460, 4490, 5910, 11930, 0,
             11260, 0, 5390, 8300, 8820, 11840, 10920, 11050, 9660, 8290, 16550, 0, 5350, 0, 7220, 7070, 7960, 7870]

motif_ticks = [100, 200, 400, 800]
gene_ticks = [1000, 2000, 4000]
motif_names = ['motif_%d' % i for i in range(1, 16)]

ROW_TOP, ROW_STEP = 77, 16.455
y_top = -ROW_TOP / ROW_STEP
y_bottom = (H - ROW_TOP) / ROW_STEP


def px_axes(left, width):
    ax = fig.add_axes([left / W, 0, width / W, 1])
    ax.set_ylim(y_bottom, y_top)
    ax.axis('off')
    return ax


fig = plt.figure(figsize=(W / 100, H / 100), dpi=100)
tree_cmap = LinearSegmentedColormap.from_list('tree', [(0, '#ff0000'), (.15, '#ff4500'), (.3, '#ffa500'), (.5, '#ffff00'),
                                                       (.65, '#c8c83c'), (.8, '#808098'), (.9, '#4040c8'), (1, '#0000ff')])

# tree and labels
ax = px_axes(0, 592)
ax.set_xlim(0, 592)
for r0, r1, c in [(-.5, 58.5, '#ff0000'), (58.5, 75.5, '#ff7f00'), (96.5, 123.5, '#00ae00')]:
    ax.add_patch(Rectangle((284, r0), 306, r1 - r0, fc=c, ec='none', zorder=1))
for i, g in enumerate(genes):
    ax.plot([tip_end[i], 284], [i, i], color='#e2e2e2', lw=0.8, ls=(0, (2, 2)), zorder=1)
    ax.plot([tip_start[i], tip_end[i]], [i, i], color='k', lw=2.1, solid_capstyle='round', zorder=3)
    color = label_colors.get(g[:5], 'k')
    ax.text(288, i, g, color=color, fontsize=11.3, va='center', ha='left', zorder=4,
            path_effects=[pe.withStroke(linewidth=0.7, foreground=color)])
for x0, x1, r0, r1, boot in branches:
    c = 'k' if boot is None else tree_cmap(boot / 1000)
    ax.plot([x0, x1], [r0, r1], color=c, lw=2.1, solid_capstyle='projecting', zorder=2)

# motifs
axm = px_axes(592.2, 270)
axm.set_xlim(0, 270 / 0.3222)
for t in motif_ticks:
    axm.plot([t, t], [-.55, y_bottom], color='#c8c8c8', lw=1, zorder=1)
    axm.text(t, -.58, str(t), rotation=90, fontsize=5.5, color='#333333', ha='center', va='bottom')
for i in range(len(genes)):
    row = i + 1
    if motif_first[i] is None:
        marks = list(motif_special[row])
    else:
        order, offset = (type1_order, type1_offset) if row <= 87 else (type2_order, type2_offset)
        marks = [(m, motif_first[i] + o) for m, o in zip(order, offset)]
    marks = motif_extra.get(row, []) + marks
    end = max(s + motif_len[m] for m, s in marks) + 6
    axm.plot([0, protein_end.get(row, end)], [i, i], color='#ffb6b6', lw=1.1, zorder=2)
    for m, s in marks:
        axm.barh(i, motif_len[m], left=s, height=0.58, color=motif_colors[m], edgecolor='#666666', linewidth=0.8, zorder=3)

# gene structure
axg = px_axes(866.5, W - 866.5)
axg.set_xlim(0, (W - 866.5) / 0.0327)
for t in gene_ticks:
    axg.plot([t, t], [-.55, y_bottom], color='#c8c8c8', lw=1, zorder=1)
    axg.text(t, -.58, str(t), rotation=90, fontsize=5.5, color='#333333', ha='center', va='bottom')
for i, ex in enumerate(gene_exons):
    axg.plot([ex[0], ex[-1]], [i, i], color='k', lw=1.2, zorder=2)
    for s, e in zip(ex[::2], ex[1::2]):
        axg.barh(i, e - s, left=s, height=0.58, color='#00ee76', edgecolor='#666666', linewidth=0.8, zorder=3)
        if s < gene_utr5[i]:
            axg.barh(i, min(e, gene_utr5[i]) - s, left=s, height=0.58, color='#ffff00', edgecolor='#666666', linewidth=0.8, zorder=4)
        if gene_utr3[i] and e > gene_utr3[i]:
            s3 = max(s, gene_utr3[i])
            axg.barh(i, e - s3, left=s3, height=0.58, color='#ffff00', edgecolor='#666666', linewidth=0.8, zorder=4)

# overlay in picture coordinates: headers, block titles, legend
ov = fig.add_axes([0, 0, 1, 1])
ov.set_xlim(0, W)
ov.set_ylim(H, 0)
ov.axis('off')
ov.patch.set_alpha(0)
heavy = [pe.withStroke(linewidth=1.2, foreground='k')]
for s, x, y in [('a', 316, 25), ('b', 720, 21), ('c', 1019, 25)]:
    ov.text(x, y, s, fontsize=35, fontweight='bold', ha='center', va='center', path_effects=heavy)
white_heavy = [pe.withStroke(linewidth=1.0, foreground='w')]
for s, x, y, fs in [('Angiosperm Type Ia', 543, 553, 33), ('Angiosperm\nType non-Ia', 535, 1179, 31), ('Angiosperm Type II', 546, 1885, 32.5)]:
    ov.text(x, y, s, color='w', fontsize=fs, fontweight='bold', rotation=90, ha='center', va='center',
            multialignment='center', linespacing=1.0, path_effects=white_heavy)
for s, y0, y1 in [('Type I', 1287, 1388), ('Type II', 1550, 1660)]:
    ov.add_patch(FancyBboxPatch((12, y0 + 3), 27, y1 - y0 - 6, boxstyle='round,pad=3', fc='#0000ff', ec='none', zorder=5))
    ov.text(25.5, (y0 + y1) / 2, s, color='w', fontsize=22, fontweight='bold', rotation=90, ha='center', va='center', zorder=6)

ov.text(107, 1726, 'Bootstrap', fontsize=18, fontweight='bold', family='DejaVu Sans', ha='center', va='center')
ov.text(1153, 294.5, 'Legend:', fontsize=17.5, fontweight='bold', family='DejaVu Sans', va='center')
ov.text(1153, 340.5, 'b', fontsize=18, fontweight='bold', family='DejaVu Sans', va='center')
ov.text(1169, 340.5, ': Motifs', fontsize=18, color='#222222', va='center')
ov.text(1153, 1169.5, 'c', fontsize=18, fontweight='bold', family='DejaVu Sans', va='center')
ov.text(1167, 1169.5, ': Gene structure', fontsize=18, color='#222222', va='center')
for k, name in enumerate(motif_names):
    y = 399.5 + 49.1 * k
    ov.add_patch(Rectangle((1249, y - 16), 33, 32, fc=motif_colors[k + 1], ec='#555555', lw=1))
    ov.text(1299, y, name, fontsize=18, color='#222222', va='center')
for name, c, y in [('CDS', '#66f500', 1230), ('UTR', '#ffff00', 1279.5)]:
    ov.add_patch(Rectangle((1249, y - 16), 33, 32, fc=c, ec='#555555', lw=1))
    ov.text(1299, y, name, fontsize=18, color='#222222', va='center')
ov.plot([1249, 1282], [1323.5, 1323.5], color='k', lw=1.5)
ov.text(1302, 1324.5, 'Intron', fontsize=18, color='#222222', va='center')

# bootstrap colour bar
cbar_cmap = LinearSegmentedColormap.from_list('boot', [(0, '#ff0000'), (.5, '#ffff00'), (.65, '#a0d060'), (.8, '#4f90a8'), (1, '#0f6fff')])
cax = fig.add_axes([61.3 / W, 1 - 2046.7 / H, 30.8 / W, 277.7 / H])
cb = fig.colorbar(ScalarMappable(Normalize(0, 1000), cbar_cmap), cax=cax, ticks=[0, 500, 1000])
cb.outline.set_linewidth(1.5)
cax.tick_params(length=0, labelsize=16.5, pad=9)

fig.savefig('out.png', dpi=100)
